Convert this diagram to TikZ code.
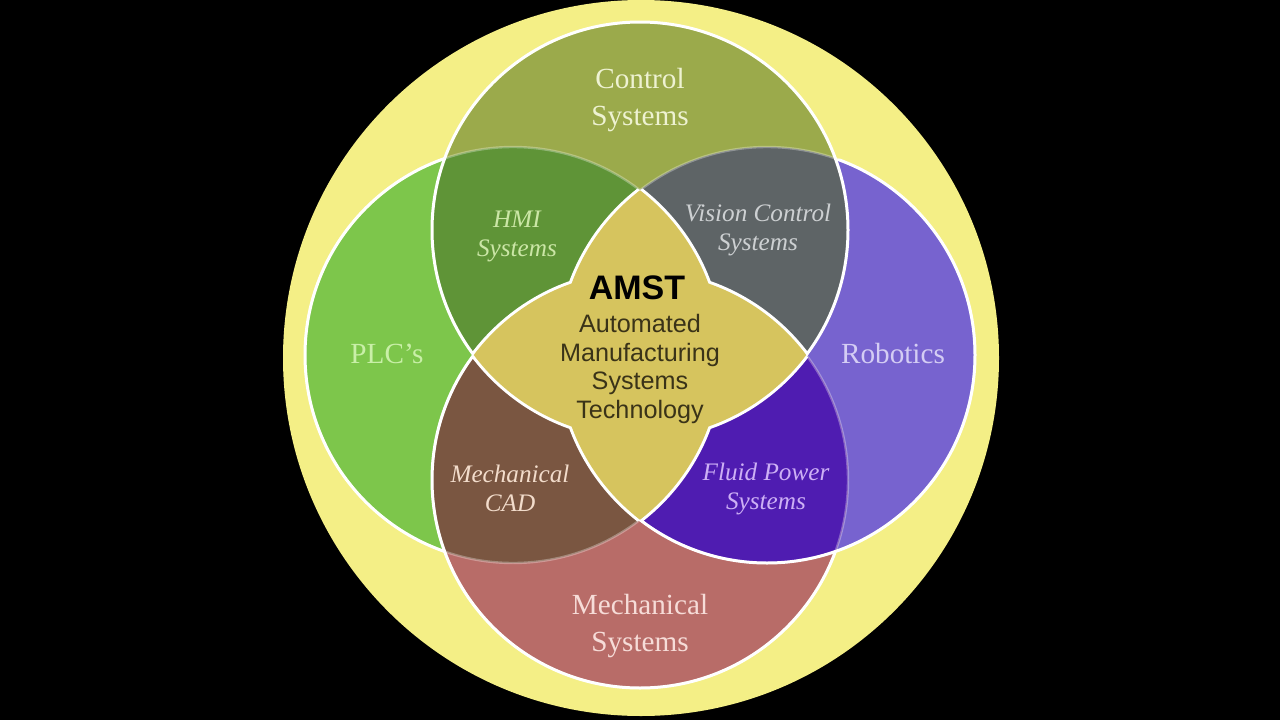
\documentclass[tikz,border=0pt]{standalone}
\usepackage{fontspec}
\setmainfont{Liberation Serif}
\newfontfamily\arialfont{Liberation Sans}
\definecolor{ylw}{HTML}{F4EF86}
\definecolor{cPLC}{HTML}{7DC64B}
\definecolor{cRob}{HTML}{7763CF}
\definecolor{cCtl}{HTML}{9BAA4B}
\definecolor{cMech}{HTML}{B86C68}
\definecolor{cHMI}{HTML}{5F9437}
\definecolor{cVis}{HTML}{5E6466}
\definecolor{cCAD}{HTML}{7A5641}
\definecolor{cFlu}{HTML}{4F1CB1}
\definecolor{cStar}{HTML}{D6C45E}
\definecolor{tCtl}{HTML}{EEF2D2}
\definecolor{tPLC}{HTML}{C9EFA8}
\definecolor{tRob}{HTML}{D4CDF4}
\definecolor{tMech}{HTML}{F6DCD8}
\definecolor{tHMI}{HTML}{CBE6A6}
\definecolor{tVis}{HTML}{CDD0D2}
\definecolor{tCAD}{HTML}{F2DCCB}
\definecolor{tFlu}{HTML}{CDB0F5}
\definecolor{tSub}{HTML}{3A3318}
\begin{document}
\begin{tikzpicture}[x=0.5pt,y=0.5pt,
  wline/.style={draw=white, line width=1.5pt},
  faint/.style={draw=white, draw opacity=0.3, line width=1.2pt},
  bigtxt/.style={align=center, font=\fontsize{14.6}{18.5}\selectfont},
  ittxt/.style={align=center, font=\fontsize{12.6}{14.5}\selectfont\itshape}]
\def\R{208}
\fill[black] (0,0) rectangle (1280,720);
\useasboundingbox (0,0) rectangle (1280,720);
\coordinate (cL) at (513,365);
\coordinate (cR) at (767,365);
\coordinate (cT) at (640,490);
\coordinate (cB) at (640,240);
% outer yellow disc
\fill[ylw] (641,362) circle[radius=358];
% single regions
\fill[cPLC] (cL) circle[radius=\R];
\fill[cRob] (cR) circle[radius=\R];
\fill[cCtl] (cT) circle[radius=\R];
\fill[cMech] (cB) circle[radius=\R];
% pair intersections
\begin{scope}
  \clip (cT) circle[radius=\R];
  \fill[cHMI] (cL) circle[radius=\R];
  \fill[cVis] (cR) circle[radius=\R];
\end{scope}
\begin{scope}
  \clip (cB) circle[radius=\R];
  \fill[cCAD] (cL) circle[radius=\R];
  \fill[cFlu] (cR) circle[radius=\R];
\end{scope}
% faint boundaries
\draw[faint] (cL) circle[radius=\R];
\draw[faint] (cR) circle[radius=\R];
\draw[faint] (cB) circle[radius=\R];
% white boundaries
\draw[wline] (cT) circle[radius=\R];
\begin{scope}
  \clip (0,0) rectangle (444.7,720);
  \draw[wline] (cL) circle[radius=\R];
\end{scope}
\begin{scope}
  \clip (835.3,561.4) -- (1280,561.4) -- (1280,0) -- (282.7,0) -- cycle;
  \draw[wline] (cR) circle[radius=\R];
\end{scope}
\begin{scope}
  \clip (292.5,720) -- (1001.3,0) -- (0,0) -- (0,720) -- cycle;
  \draw[wline] (cB) circle[radius=\R];
\end{scope}
% central star: outlines of both lenses
\begin{scope}
  \clip (cL) circle[radius=\R];
  \draw[white, line width=3pt] (cR) circle[radius=\R];
\end{scope}
\begin{scope}
  \clip (cR) circle[radius=\R];
  \draw[white, line width=3pt] (cL) circle[radius=\R];
\end{scope}
\begin{scope}
  \clip (cT) circle[radius=\R];
  \draw[white, line width=3pt] (cB) circle[radius=\R];
\end{scope}
\begin{scope}
  \clip (cB) circle[radius=\R];
  \draw[white, line width=3pt] (cT) circle[radius=\R];
\end{scope}
\begin{scope}
  \clip (cL) circle[radius=\R];
  \fill[cStar] (cR) circle[radius=\R];
\end{scope}
\begin{scope}
  \clip (cT) circle[radius=\R];
  \fill[cStar] (cB) circle[radius=\R];
\end{scope}
% labels
\node[bigtxt, text=tCtl] (ctl) at (640,620) {Control\\Systems};
\node[bigtxt, text=tPLC] (plc) at (387,366) {PLC’s};
\node[bigtxt, text=tRob] (rob) at (893,366) {Robotics};
\node[bigtxt, text=tMech] (mech) at (640,94) {Mechanical\\Systems};
\node[ittxt, text=tHMI] (hmi) at (517,484) {HMI\\Systems};
\node[ittxt, text=tVis] (vis) at (758,490) {Vision Control\\Systems};
\node[ittxt, text=tCAD] (cad) at (510,232) {Mechanical\\CAD};
\node[ittxt, text=tFlu] (flu) at (766,231) {Fluid Power\\Systems};
\node[font=\arialfont\bfseries\fontsize{17}{20}\selectfont, text=black] (amst) at (637,432) {AMST};
\node[align=center, font=\arialfont\fontsize{12.6}{14.35}\selectfont, text=tSub] (sub) at (640,351) {Automated\\Manufacturing\\Systems\\Technology};
\end{tikzpicture}
\end{document}
